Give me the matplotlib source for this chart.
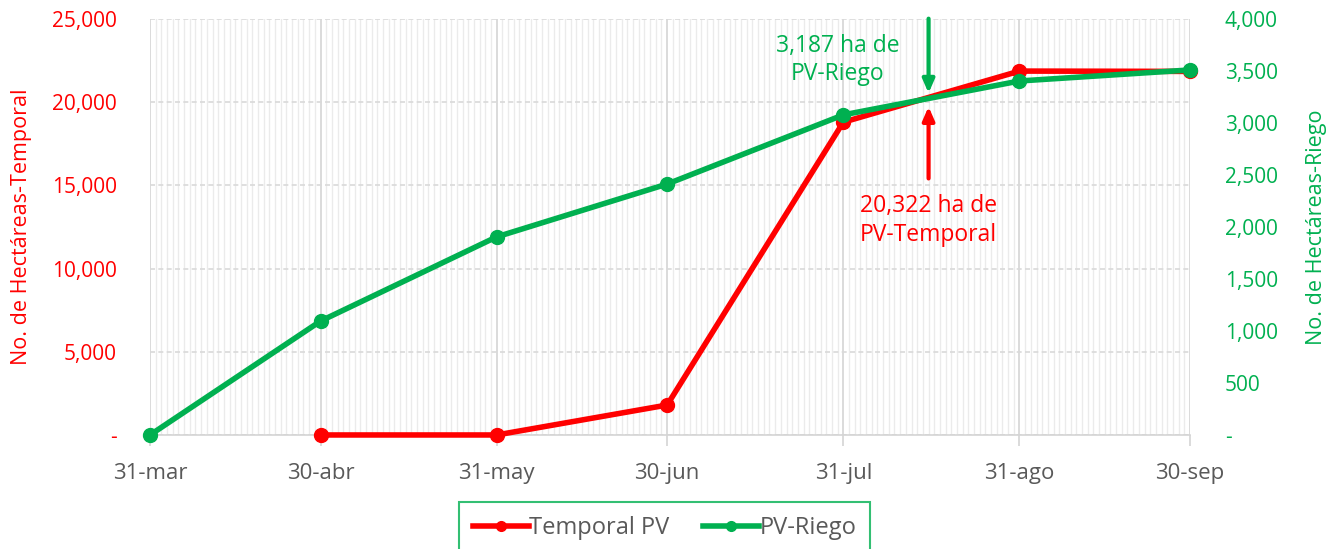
import matplotlib
matplotlib.use("Agg")
import matplotlib.pyplot as plt
import matplotlib.dates as mdates
import matplotlib.ticker as mticker
import numpy as np
from datetime import date

# ---- data ----
month_labels = ["31-mar", "30-abr", "31-may", "30-jun", "31-jul", "31-ago", "30-sep"]
month_dates = [date(2023, 3, 31), date(2023, 4, 30), date(2023, 5, 31), date(2023, 6, 30),
               date(2023, 7, 31), date(2023, 8, 31), date(2023, 9, 30)]

temporal_dates = [date(2023, 4, 30), date(2023, 5, 31), date(2023, 6, 30),
                  date(2023, 7, 31), date(2023, 8, 31), date(2023, 9, 30)]
temporal_values = [0, 0, 1800, 18800, 21870, 21850]

riego_dates = month_dates
riego_values = [0, 1095, 1905, 2413, 3078, 3404, 3510]

annot_date = date(2023, 8, 15)
riego_annot_value = 3187
temporal_annot_value = 20322

RED = "#FF0000"
GREEN = "#00B050"
GRAY_TXT = "#595959"

plt.rcParams['font.family'] = ['Open Sans', 'DejaVu Sans']

fig = plt.figure(figsize=(13.36, 5.49), dpi=100)
ax = fig.add_axes([0.1123, 0.2077, 0.7784, 0.7577])
ax2 = ax.twinx()

xd = mdates.date2num(month_dates)
ax.set_xlim(xd[0], xd[-1])
ax.set_ylim(0, 25000)
ax2.set_ylim(0, 4000)

# grid
ax.xaxis.set_major_locator(mticker.FixedLocator(xd))
ax.xaxis.set_major_formatter(mticker.FixedFormatter(month_labels))
ax.xaxis.set_minor_locator(mdates.DayLocator())
ax.grid(which='minor', axis='x', color='#EBEBEB', linewidth=1.0)
ax.grid(which='major', axis='x', color='#D4D4D4', linewidth=1.2)
ax.yaxis.set_major_locator(mticker.MultipleLocator(5000))
ax.grid(which='major', axis='y', color='#D9D9D9', linewidth=1.2, linestyle=(0, (3, 2)))
ax.set_axisbelow(True)

fmt = mticker.FuncFormatter(lambda v, p: '-' if v == 0 else f'{v:,.0f}')
ax.yaxis.set_major_formatter(fmt)
ax2.yaxis.set_major_locator(mticker.MultipleLocator(500))
ax2.yaxis.set_major_formatter(fmt)

for a in (ax, ax2):
    for s in ('top', 'left', 'right'):
        a.spines[s].set_visible(False)
ax.spines['bottom'].set_color('#D4D4D4')
ax.spines['bottom'].set_linewidth(1.2)
ax2.spines['bottom'].set_visible(False)

ax.tick_params(axis='y', length=0, labelcolor=RED, labelsize=15, pad=24)
ax2.tick_params(axis='y', length=0, labelcolor=GREEN, labelsize=15, pad=25)
ax.tick_params(axis='x', which='major', length=8, color='#D4D4D4', width=1.2,
               labelcolor=GRAY_TXT, labelsize=16, pad=12)
ax.tick_params(axis='x', which='minor', length=0)

ax.set_ylabel("No. de Hectáreas-Temporal", color=RED, fontsize=15.5, labelpad=14)
ax2.set_ylabel("No. de Hectáreas-Riego", color=GREEN, fontsize=15.5, labelpad=20)

# lines
lt, = ax.plot(mdates.date2num(temporal_dates), temporal_values, color=RED, lw=4,
              marker='o', ms=10, clip_on=False, zorder=3, label="Temporal PV")
lr, = ax2.plot(mdates.date2num(riego_dates), riego_values, color=GREEN, lw=4,
               marker='o', ms=10, clip_on=False, zorder=3, label="PV-Riego")

# annotations
xa = mdates.date2num(annot_date)
ax2.annotate("", xy=(xa, 3260), xytext=(xa, 4030),
             arrowprops=dict(arrowstyle='-|>,head_length=0.8,head_width=0.35', color=GREEN, lw=3),
             annotation_clip=False)
ax2.text(xa - 16, 3605, "3,187 ha de\nPV-Riego", color=GREEN, fontsize=16.5,
         ha='center', va='center', linespacing=1.25)
ax.annotate("", xy=(xa, 19900), xytext=(xa, 15250),
            arrowprops=dict(arrowstyle='-|>,head_length=0.8,head_width=0.35', color=RED, lw=3))
ax.text(xa, 12900, "20,322 ha de\nPV-Temporal", color=RED, fontsize=16.5,
        ha='center', va='center', linespacing=1.25)

leg = fig.legend(handles=[lt, lr], loc='upper center', bbox_to_anchor=(0.4974, 0.0856),
                 bbox_transform=fig.transFigure, ncol=2, fontsize=17, frameon=True,
                 fancybox=False, edgecolor=GREEN, borderpad=0.6, handlelength=2.4,
                 handletextpad=0.0, columnspacing=1.4, borderaxespad=0)
leg.get_frame().set_linewidth(1.5)
for t in leg.get_texts():
    t.set_color(GRAY_TXT)
for h in leg.legend_handles:
    h.set_markersize(7)

fig.savefig("out.png", dpi=100)
